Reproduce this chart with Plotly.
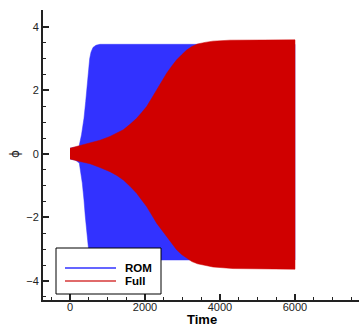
import plotly.graph_objects as go

# ROM envelope (upper / lower) of the oscillating phi signal
rom_t_up = [0, 150, 240, 307, 373, 419, 459, 493, 525, 560, 613, 693, 800, 6000]
rom_up = [0.18, 0.2, 0.23, 0.6, 1.12, 1.65, 2.2, 2.7, 3.0, 3.2, 3.35, 3.42, 3.45, 3.45]
rom_t_lo = [0, 150, 248, 328, 373, 408, 445, 488, 515, 560, 620, 700, 6000]
rom_lo = [-0.16, -0.2, -0.29, -0.92, -1.45, -1.97, -2.5, -2.92, -3.13, -3.29, -3.33, -3.34, -3.34]

# Full model envelope
full_t_up = [0, 267, 533, 800, 1067, 1250, 1422, 1600, 1778, 1911, 2044, 2178, 2311, 2445,
             2578, 2711, 2844, 2978, 3111, 3250, 3400, 3600, 3813, 4267, 4800, 6000]
full_up = [0.18, 0.26, 0.34, 0.43, 0.55, 0.65, 0.76, 0.93, 1.12, 1.3, 1.49, 1.75, 2.02, 2.28,
           2.54, 2.76, 2.96, 3.12, 3.27, 3.38, 3.46, 3.51, 3.55, 3.58, 3.59, 3.59]
full_t_lo = [0, 267, 533, 800, 1067, 1250, 1422, 1600, 1778, 1911, 2044, 2178, 2311, 2445,
             2578, 2711, 2844, 2978, 3111, 3250, 3400, 3600, 3813, 4347, 5000, 6000]
full_lo = [-0.16, -0.24, -0.31, -0.43, -0.56, -0.68, -0.82, -1.02, -1.24, -1.45, -1.66, -1.92,
           -2.18, -2.4, -2.6, -2.82, -3.02, -3.17, -3.29, -3.39, -3.46, -3.52, -3.56, -3.61,
           -3.63, -3.63]

series_names = ["ROM", "Full"]
fill_colors = ["#3232FF", "#D00000"]
legend_colors = ["#3232FF", "#E06A6A"]

W, H = 359, 329
ML, MR, MT, MB = 43, 0, 10, 29
PW, PH = W - ML - MR, H - MT - MB

def px_x(p):
    return (p - ML) / PW

def px_y(p):
    return (H - MB - p) / PH

fig = go.Figure()
for (tu, u, tl, l), col, name in zip(
    [(rom_t_up, rom_up, rom_t_lo, rom_lo), (full_t_up, full_up, full_t_lo, full_lo)],
    fill_colors, series_names):
    xs = list(tu) + list(reversed(tl))
    ys = list(u) + list(reversed(l))
    fig.add_trace(go.Scatter(x=xs, y=ys, fill="toself", fillcolor=col,
                             mode="lines", line=dict(width=0.5, color=col),
                             name=name, showlegend=False, hoverinfo="skip"))

font = "Liberation Sans, Arial, sans-serif"
axis_common = dict(
    showline=True, linecolor="#222", linewidth=2, mirror=False,
    ticks="inside", ticklen=6, tickwidth=2, tickcolor="#222",
    showgrid=False, zeroline=False,
    tickfont=dict(family=font, size=11, color="#222"),
)
fig.update_xaxes(range=[-720, 7707], dtick=2000, tick0=0, ticklabelstandoff=-4,
                 minor=dict(dtick=500, ticks="inside", ticklen=3, tickwidth=1, tickcolor="#222"),
                 **axis_common)
fig.update_yaxes(range=[-4.6, 4.53], dtick=2, tick0=0,
                 minor=dict(dtick=0.5, ticks="inside", ticklen=3, tickwidth=1, tickcolor="#222"),
                 **axis_common)

# legend box drawn manually
shapes = [dict(type="rect", xref="paper", yref="paper",
               x0=px_x(56), x1=px_x(161), y0=px_y(294), y1=px_y(248),
               line=dict(color="black", width=1), fillcolor="white", layer="above")]
annotations = []
for i, (name, col) in enumerate(zip(series_names, legend_colors)):
    yy = px_y(268 + i * 13)
    shapes.append(dict(type="line", xref="paper", yref="paper",
                       x0=px_x(65), x1=px_x(116), y0=yy, y1=yy,
                       line=dict(color=col, width=1.5 if i == 0 else 2), layer="above"))
    annotations.append(dict(xref="paper", yref="paper", x=px_x(123), y=yy,
                            xanchor="left", yanchor="middle", showarrow=False,
                            text="<b>%s</b>" % name,
                            font=dict(family=font, size=11.5, color="black")))

annotations.append(dict(xref="paper", yref="paper", x=px_x(202), y=px_y(319),
                        xanchor="center", yanchor="middle", showarrow=False,
                        text="<b>Time</b>", font=dict(family=font, size=13, color="black")))
annotations.append(dict(xref="paper", yref="paper", x=px_x(15), y=px_y(154),
                        xanchor="center", yanchor="middle", showarrow=False,
                        text="ϕ", textangle=-90,
                        font=dict(family="DejaVu Sans, sans-serif", size=12, color="#222")))

fig.update_layout(width=W, height=H, margin=dict(l=ML, r=MR, t=MT, b=MB),
                  paper_bgcolor="white", plot_bgcolor="white",
                  shapes=shapes, annotations=annotations, showlegend=False)

fig.write_html("out.html")
